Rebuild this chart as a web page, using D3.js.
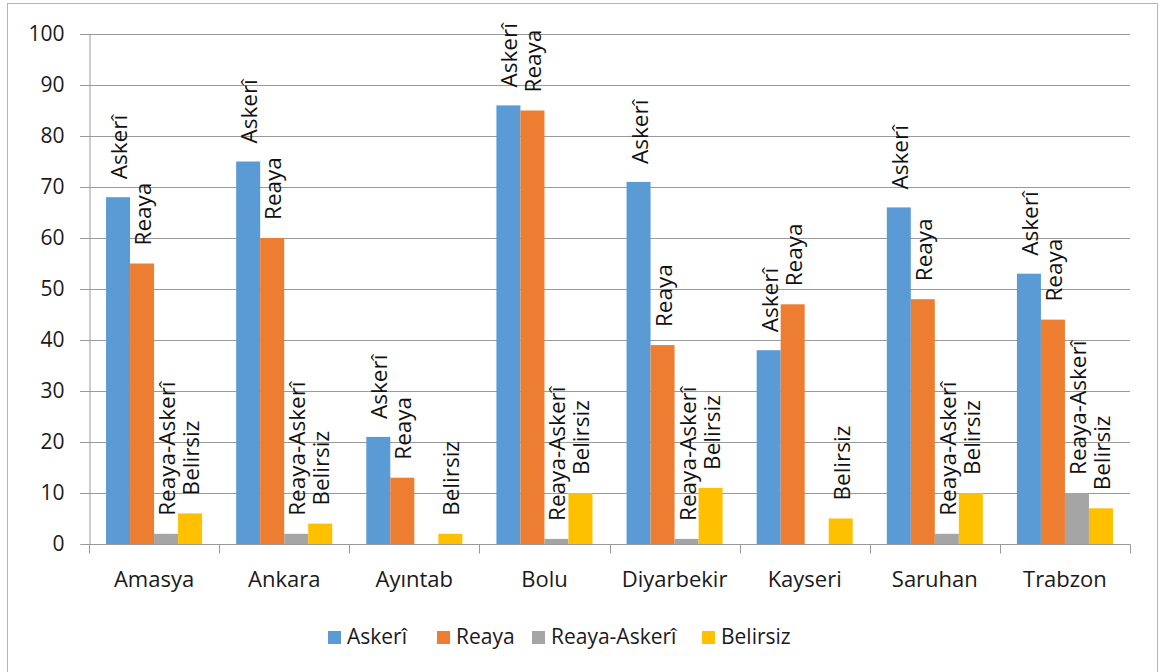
<!DOCTYPE html>
<html><head><meta charset="utf-8">
<script src="https://cdn.jsdelivr.net/npm/d3@7"></script>
<style>html,body{margin:0;padding:0;background:#fff;}svg{display:block;}</style>
</head><body>
<script>
const categories = ["Amasya","Ankara","Ayıntab","Bolu","Diyarbekir","Kayseri","Saruhan","Trabzon"];
const seriesNames = ["Askerî","Reaya","Reaya-Askerî","Belirsiz"];
const askeri = [68,75,21,86,71,38,66,53];
const reaya = [55,60,13,85,39,47,48,44];
const reayaAskeri = [2,2,null,1,1,null,2,10];
const belirsiz = [6,4,2,10,11,5,10,7];
const yTicks = [0,10,20,30,40,50,60,70,80,90,100];
const colors = ["#5B9BD5","#ED7D31","#A5A5A5","#FFC000"];

(function(){
const seriesValues = [askeri, reaya, reayaAskeri, belirsiz];
const W = 1160, H = 672;
const FONT = "'Open Sans', sans-serif";
const svg = d3.select("body").append("svg").attr("width", W).attr("height", H);

svg.append("rect").attr("x",7.5).attr("y",3.5).attr("width",1150).attr("height",680)
  .attr("fill","#fff").attr("stroke","#b4b4b4").attr("stroke-width",1);

const pLeft = 89, pRight = 1130, pTop = 34, pBottom = 544;
const y = d3.scaleLinear().domain([0,100]).range([pBottom, pTop]);
const x0 = d3.scaleBand().domain(categories).range([pLeft, pRight]).paddingInner(0.262).paddingOuter(0.131);
const x1 = d3.scaleBand().domain(seriesNames).range([0, x0.bandwidth()]);
const step = x0.step();

// gridlines
svg.append("g").selectAll("line").data(yTicks.filter(d=>d>0)).join("line")
  .attr("x1", pLeft-9).attr("x2", pRight).attr("y1", d=>Math.round(y(d))+0.5).attr("y2", d=>Math.round(y(d))+0.5)
  .attr("stroke","#9a9a9a").attr("stroke-width",1);

// y axis
const yAxis = d3.axisLeft(y).tickValues(yTicks).tickSize(9).tickPadding(16);
const gy = svg.append("g").attr("transform",`translate(${pLeft+0.5},0)`).call(yAxis);
gy.select(".domain").attr("stroke","#9a9a9a");
gy.selectAll(".tick line").attr("stroke","#9a9a9a");
gy.selectAll(".tick text").attr("font-family",FONT).attr("font-size",21).attr("fill","#1a1a1a");

// bars
const data = [];
categories.forEach((c,i)=>seriesNames.forEach((s,j)=>{
  const v = seriesValues[j][i];
  if (v !== null) data.push({c, s, v, j});
}));
svg.append("g").selectAll("rect").data(data).join("rect")
  .attr("x", d=>x0(d.c)+x1(d.s)).attr("width", x1.bandwidth())
  .attr("y", d=>y(d.v)).attr("height", d=>y(0)-y(d.v))
  .attr("fill", d=>colors[d.j]);

// x axis
const gx = svg.append("g").attr("transform",`translate(0,${pBottom+0.5})`);
gx.append("line").attr("x1",pLeft).attr("x2",pRight+0.5).attr("stroke","#9a9a9a");
const bounds = d3.range(categories.length+1).map(i=>pLeft + i*step);
gx.selectAll(".tk").data(bounds).join("line").attr("class","tk")
  .attr("x1", d=>Math.round(d)+0.5).attr("x2", d=>Math.round(d)+0.5).attr("y1",0).attr("y2",9)
  .attr("stroke","#9a9a9a");
gx.selectAll("text").data(categories).join("text")
  .attr("x", d=>x0(d) + x0.bandwidth()/2).attr("y", 42)
  .attr("text-anchor","middle").attr("font-family",FONT).attr("font-size",22).attr("fill","#1a1a1a")
  .text(d=>d);

// data labels
svg.append("g").selectAll("text").data(data).join("text")
  .attr("transform", d=>`translate(${x0(d.c)+x1(d.s)+x1.bandwidth()/2+9},${y(d.v)-18}) rotate(-90)`)
  .attr("font-family",FONT).attr("font-size",22.5).attr("fill","#111")
  .text(d=>d.s);

// legend
const legX = [328, 437, 532, 702];
const lg = svg.append("g");
seriesNames.forEach((s,j)=>{
  lg.append("rect").attr("x",legX[j]).attr("y",631).attr("width",13).attr("height",13).attr("fill",colors[j]);
  lg.append("text").attr("x",legX[j]+19).attr("y",644).attr("font-family",FONT).attr("font-size",21)
    .attr("fill","#1a1a1a").text(s);
});
})();
</script>
</body></html>
